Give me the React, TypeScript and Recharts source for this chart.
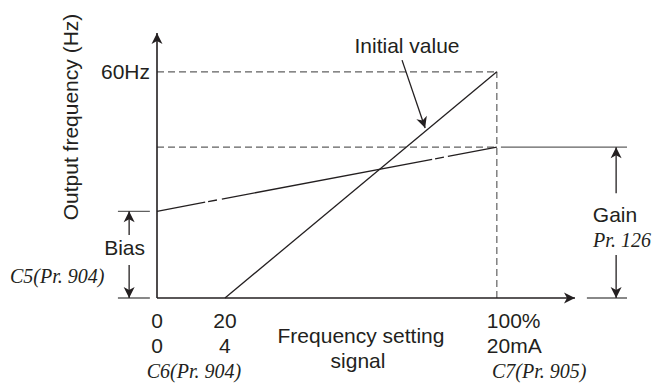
import React from "react"
import { ComposedChart, Line, XAxis, YAxis, ReferenceLine, ReferenceDot, Customized } from "recharts"

// frequency setting signal (%) and the matching current (mA)
const signalTicks = [0, 20, 100]
const percentLabels = ["0", "20", "100%"]
const currentLabels = ["0", "4", "20mA"]

// output frequency ticks
const freqTicks = [60]
const freqLabels = ["60Hz"]

// initial value line: signal % -> Hz
const initialSignal = [20, 100]
const initialFreq = [0, 60]

// bias / gain adjusted line
const adjustedSignal = [0, 100]
const adjustedFreq = [23, 40]

const xMax = 123
const yMax = 70.3

const initialData = initialSignal.map((x, i) => ({ x, y: initialFreq[i] }))
const adjustedData = adjustedSignal.map((x, i) => ({ x, y: adjustedFreq[i] }))

const bias = adjustedFreq[0]
const gain = adjustedFreq[1]
const maxFreq = initialFreq[1]
const fullScale = initialSignal[1]

const INK = "#231f20"
const GREY = "#606060"
const SANS = "Liberation Sans, Arial, sans-serif"
const SERIF = "Liberation Serif, Times New Roman, serif"

// arrowheads, angle in screen degrees (0 = pointing right)
const arrowHeads = [
  { x: xMax, y: 0, angle: 0 },
  { x: 0, y: yMax, angle: -90 },
  { x: -8.2, y: bias, angle: -90 },
  { x: -8.2, y: 0, angle: 90 },
  { x: 135.1, y: gain, angle: -90 },
  { x: 135.1, y: 0, angle: 90 },
  { x: 78.9, y: 45.1, angle: 71.3 },
]

const arrowShape = (angle: number) => (props: any) => (
  <polygon
    transform={`translate(${props.cx},${props.cy}) rotate(${angle})`}
    points="0,0 -11,-5.5 -8,0 -11,5.5"
    fill={INK}
  />
)

const SignalTick = (props: any) => {
  const { x, y, payload } = props
  const i = signalTicks.indexOf(payload.value)
  const last = i === signalTicks.length - 1
  const tx = last ? x - 10 : x
  const anchor = last ? "start" : "middle"
  return (
    <g fontFamily={SANS} fontSize={21} fill={INK}>
      <text x={tx} y={y + 30} textAnchor={anchor}>{percentLabels[i]}</text>
      <text x={tx} y={y + 55} textAnchor={anchor}>{currentLabels[i]}</text>
    </g>
  )
}

const FreqTick = (props: any) => {
  const { x, y, payload } = props
  const i = freqTicks.indexOf(payload.value)
  return (
    <text x={x} y={y} dy="0.35em" textAnchor="end" fontFamily={SANS} fontSize={21} fill={INK}>
      {freqLabels[i]}
    </text>
  )
}

const Annotations = () => (
  <g fill={INK}>
    <g fontFamily={SANS} fontSize={21}>
      <text x={70} y={117} transform="rotate(-90 70 117)" textAnchor="middle" dominantBaseline="central">
        Output frequency (Hz)
      </text>
      <text x={407} y={53} textAnchor="middle">Initial value</text>
      <text x={145} y={255} textAnchor="end">Bias</text>
      <text x={615} y={222} textAnchor="middle">Gain</text>
      <text x={361} y={343} textAnchor="middle">Frequency setting</text>
      <text x={358} y={368} textAnchor="middle">signal</text>
    </g>
    <g fontFamily={SERIF} fontSize={20} fontStyle="italic">
      <text x={10} y={283}>C5(Pr. 904)</text>
      <text x={622} y={247} textAnchor="middle">Pr. 126</text>
      <text x={194} y={378} textAnchor="middle">C6(Pr. 904)</text>
      <text x={492} y={378}>C7(Pr. 905)</text>
    </g>
  </g>
)

const seg = (x1: number, y1: number, x2: number, y2: number) => [
  { x: x1, y: y1 },
  { x: x2, y: y2 },
]

export default function App() {
  return (
    <div style={{ position: "absolute", left: 0, top: 0, background: "#fff" }}>
      <ComposedChart width={656} height={386} margin={{ top: 33, right: 81, left: 97, bottom: 0 }}>
        <XAxis
          dataKey="x"
          type="number"
          domain={[0, xMax]}
          ticks={signalTicks}
          interval={0}
          tick={<SignalTick />}
          axisLine={false}
          tickLine={false}
          tickSize={0}
          tickMargin={0}
          height={88}
        />
        <YAxis
          dataKey="y"
          type="number"
          domain={[0, yMax]}
          ticks={freqTicks}
          interval={0}
          tick={<FreqTick />}
          axisLine={false}
          tickLine={false}
          tickSize={0}
          tickMargin={7}
          width={60}
        />

        {/* dashed guides */}
        <ReferenceLine segment={seg(0, maxFreq, fullScale, maxFreq)} stroke={GREY} strokeWidth={1.2} strokeDasharray="7 4" ifOverflow="visible" />
        <ReferenceLine segment={seg(0, gain, fullScale, gain)} stroke={GREY} strokeWidth={1.2} strokeDasharray="7 4" ifOverflow="visible" />
        <ReferenceLine segment={seg(fullScale, 0, fullScale, maxFreq)} stroke={GREY} strokeWidth={1.2} strokeDasharray="7 4" ifOverflow="visible" />

        {/* axes */}
        <ReferenceLine segment={seg(0, 0, xMax, 0)} stroke={INK} strokeWidth={1.6} ifOverflow="visible" />
        <ReferenceLine segment={seg(0, 0, 0, yMax)} stroke={INK} strokeWidth={1.6} ifOverflow="visible" />

        {/* bias bracket */}
        <ReferenceLine segment={seg(-11.5, bias, -2.1, bias)} stroke={GREY} strokeWidth={1.3} ifOverflow="visible" />
        <ReferenceLine segment={seg(-11.5, 0, -2.1, 0)} stroke={GREY} strokeWidth={1.3} ifOverflow="visible" />
        <ReferenceLine segment={seg(-8.2, 16.7, -8.2, bias)} stroke={INK} strokeWidth={1.3} ifOverflow="visible" />
        <ReferenceLine segment={seg(-8.2, 8.75, -8.2, 0)} stroke={INK} strokeWidth={1.3} ifOverflow="visible" />

        {/* gain bracket */}
        <ReferenceLine segment={seg(101.2, gain, 138.3, gain)} stroke={GREY} strokeWidth={1.3} ifOverflow="visible" />
        <ReferenceLine segment={seg(126.5, 0, 138.3, 0)} stroke={GREY} strokeWidth={1.3} ifOverflow="visible" />
        <ReferenceLine segment={seg(135.1, 27.8, 135.1, gain)} stroke={INK} strokeWidth={1.3} ifOverflow="visible" />
        <ReferenceLine segment={seg(135.1, 11.4, 135.1, 0)} stroke={INK} strokeWidth={1.3} ifOverflow="visible" />

        {/* initial value pointer */}
        <ReferenceLine segment={seg(72.1, 63.1, 78.9, 45.1)} stroke={INK} strokeWidth={1.3} ifOverflow="visible" />

        <Line
          data={initialData}
          dataKey="y"
          stroke={INK}
          strokeWidth={1.3}
          dot={false}
          activeDot={false}
          isAnimationActive={false}
        />
        <Line
          data={adjustedData}
          dataKey="y"
          stroke={INK}
          strokeWidth={1.3}
          strokeDasharray="49 3 9 5 214 3 9 4 60"
          dot={false}
          activeDot={false}
          isAnimationActive={false}
        />

        {arrowHeads.map((a, i) => (
          <ReferenceDot key={i} x={a.x} y={a.y} r={0} ifOverflow="visible" shape={arrowShape(a.angle)} />
        ))}

        <Customized component={<Annotations />} />
      </ComposedChart>
    </div>
  )
}
